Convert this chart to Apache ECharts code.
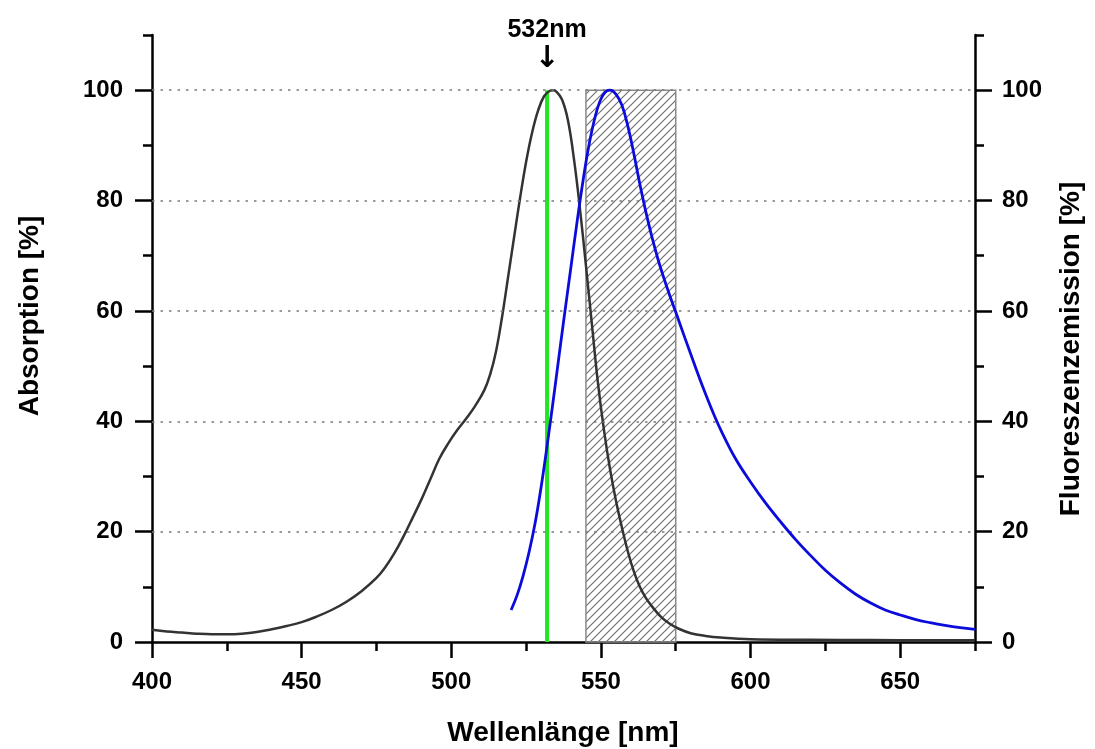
<!DOCTYPE html>
<html>
<head>
<meta charset="utf-8">
<script src="https://cdn.jsdelivr.net/npm/echarts@6/dist/echarts.min.js"></script>
<style>
html,body{margin:0;padding:0;background:#fff;}
#chart{width:1095px;height:749px;}
</style>
</head>
<body>
<div id="chart"></div>
<script>
// ---- data ----
const absWavelength = [400,405,410,415,420,425,430,435,440,445,450,455,460,465,470,475,478,481,484,487,490,493,496,499,502,505,508,511,513,515,517,519,521,523,525,527,529,531,533,534,535,537,539,541,543,545,547,549,551,553,555,557,559,561,563,565,567,570,573,576,580,585,590,600,620,640,660,675];
const absorption    = [2.2,1.9,1.7,1.5,1.4,1.4,1.5,1.8,2.3,2.9,3.6,4.6,5.8,7.3,9.2,11.6,13.6,16.1,19.1,22.4,25.8,29.5,33.2,36.0,38.4,40.5,42.8,45.6,48.5,52.8,59.0,66.2,73.4,80.5,87,92.3,96.3,98.9,99.9,100,99.8,98.3,94.5,87.5,78.5,68.2,57.5,47,38.5,31.5,25.7,20.8,16.4,12.8,10.0,8.0,6.5,4.6,3.3,2.4,1.6,1.1,0.8,0.5,0.4,0.35,0.3,0.3];
const fluWavelength = [520,522,524,526,528,530,532,534,536,538,540,542,544,546,548,550,552,553,555,557,559,561,563,565,567,569,571,573,575,578,581,584,587,590,595,600,605,610,615,620,625,630,635,640,645,650,655,660,665,670,675];
const fluorescence  = [5.8,8.5,12,16.3,21.5,28,35.5,43.5,51.8,60,68,76,83.5,90,95,98.4,99.9,100,99.3,97.3,93.5,88.5,83,78,73.5,69.5,66,62.8,59.8,55.2,50.7,46.3,42.2,38.5,33.2,29.0,25.2,21.8,18.6,15.7,13.0,10.7,8.7,7.1,5.8,4.9,4.1,3.5,3.0,2.6,2.3];
const laserWavelength = 532;
const laserLabel = '532nm';
const filterBand = [545, 575];
const filterTop = 100;
const xMajorTicks = [400,450,500,550,600,650];
const xMinorTicks = [425,475,525,575,625,675];
const yMajorTicks = [0,20,40,60,80,100];
const yMinorTicks = [10,30,50,70,90,110];
const gridLevels = [20,40,60,80,100];
const xTitle = 'Wellenlänge [nm]';
const yLeftTitle = 'Absorption [%]';
const yRightTitle = 'Fluoreszenzemission [%]';

// ---- hatch pattern ----
const pc = document.createElement('canvas');
const P = 8;
pc.width = P; pc.height = P;
const g = pc.getContext('2d');
g.strokeStyle = '#707070';
g.lineWidth = 1.2;
g.beginPath();
g.moveTo(-1, P + 1); g.lineTo(P + 1, -1);
g.moveTo(-1, 1); g.lineTo(1, -1);
g.moveTo(P - 1, P + 1); g.lineTo(P + 1, P - 1);
g.stroke();

const FONT = "'Liberation Sans', Arial, Helvetica, sans-serif";
const zip = (a, b) => a.map((v, i) => [v, b[i]]);

const chart = echarts.init(document.getElementById('chart'), null, {renderer: 'canvas'});

const tickLabelStyle = {color: '#000', fontFamily: FONT, fontWeight: 'bold', fontSize: 24};
const axisLineStyle = {show: true, lineStyle: {color: '#000', width: 2.5}};

chart.setOption({
  backgroundColor: '#fff',
  animation: false,
  grid: {left: 152, right: 120, top: 35, bottom: 107, containLabel: false, outerBoundsMode: 'none'},
  xAxis: [
    {type: 'value', position: 'bottom', min: 400, max: 675, interval: 25,
     axisLine: axisLineStyle,
     axisTick: {show: true, inside: false, length: 16, customValues: xMajorTicks, lineStyle: {color: '#000', width: 2.5}},
     axisLabel: {show: true, margin: 28, customValues: xMajorTicks, ...tickLabelStyle},
     splitLine: {show: false}},
    {type: 'value', position: 'bottom', min: 400, max: 675, interval: 25,
     axisLine: {show: false},
     axisTick: {show: true, inside: false, length: 9, customValues: xMinorTicks, lineStyle: {color: '#000', width: 2.5}},
     axisLabel: {show: false},
     splitLine: {show: false}}
  ],
  yAxis: [
    {type: 'value', position: 'left', min: 0, max: 110, interval: 10,
     axisLine: axisLineStyle,
     axisTick: {show: true, inside: false, length: 17, customValues: yMajorTicks, lineStyle: {color: '#000', width: 2.5}},
     axisLabel: {show: true, margin: 29, customValues: yMajorTicks, ...tickLabelStyle},
     splitLine: {show: false}},
    {type: 'value', position: 'left', min: 0, max: 110, interval: 10,
     axisLine: {show: false},
     axisTick: {show: true, inside: false, length: 9, customValues: yMinorTicks, lineStyle: {color: '#000', width: 2.5}},
     axisLabel: {show: false},
     splitLine: {show: false}},
    {type: 'value', position: 'right', min: 0, max: 110, interval: 10,
     axisLine: axisLineStyle,
     axisTick: {show: true, inside: false, length: 17, customValues: yMajorTicks, lineStyle: {color: '#000', width: 2.5}},
     axisLabel: {show: true, margin: 27, customValues: yMajorTicks, ...tickLabelStyle},
     splitLine: {show: false}},
    {type: 'value', position: 'right', min: 0, max: 110, interval: 10,
     axisLine: {show: false},
     axisTick: {show: true, inside: false, length: 9, customValues: yMinorTicks, lineStyle: {color: '#000', width: 2.5}},
     axisLabel: {show: false},
     splitLine: {show: false}}
  ],
  graphic: [
    {type: 'text', x: 563, y: 733, z: 100,
     style: {text: xTitle, font: "bold 28px " + FONT, fill: '#000', align: 'center', verticalAlign: 'middle'}},
    {type: 'text', x: 30, y: 316, rotation: Math.PI / 2, z: 100,
     style: {text: yLeftTitle, font: "bold 28px " + FONT, fill: '#000', align: 'center', verticalAlign: 'middle'}},
    {type: 'text', x: 1071, y: 349, rotation: Math.PI / 2, z: 100,
     style: {text: yRightTitle, font: "bold 28px " + FONT, fill: '#000', align: 'center', verticalAlign: 'middle'}}
  ],
  series: [
    {
      name: 'Laser', type: 'line', xAxisIndex: 0, yAxisIndex: 0, z: 2,
      data: [[laserWavelength, 0], [laserWavelength, filterTop]],
      showSymbol: false, symbol: 'none',
      lineStyle: {color: '#22e622', width: 4},
      markArea: {
        silent: true,
        itemStyle: {color: {image: pc, repeat: 'repeat'}, borderColor: '#8a8a8a', borderWidth: 1.5},
        data: [[{xAxis: filterBand[0], yAxis: 0}, {xAxis: filterBand[1], yAxis: filterTop}]]
      },
      markLine: {
        silent: true, symbol: 'none', label: {show: false},
        lineStyle: {color: '#7a7a7a', width: 1.6, type: [2.5, 6]},
        data: gridLevels.map(v => ({yAxis: v}))
      },
      markPoint: {
        silent: true,
        symbol: 'circle', symbolSize: 1,
        itemStyle: {color: 'rgba(0,0,0,0)'},
        label: {
          show: true, position: 'top', distance: 16,
          formatter: '{t|' + laserLabel + '}\n{a|↓}',
          rich: {
            t: {fontFamily: FONT, fontWeight: 'bold', fontSize: 25, lineHeight: 32, color: '#000', align: 'center'},
            a: {fontFamily: 'DejaVu Sans, ' + FONT, fontWeight: 'bold', fontSize: 30, lineHeight: 28, color: '#000', align: 'center'}
          }
        },
        data: [{coord: [laserWavelength, filterTop]}]
      }
    },
    {
      name: 'Absorption', type: 'line', xAxisIndex: 0, yAxisIndex: 0, z: 4,
      data: zip(absWavelength, absorption),
      smooth: 0.4, showSymbol: false, symbol: 'none',
      lineStyle: {color: '#333333', width: 2.5}
    },
    {
      name: 'Fluoreszenz', type: 'line', xAxisIndex: 0, yAxisIndex: 2, z: 5,
      data: zip(fluWavelength, fluorescence),
      smooth: 0.4, showSymbol: false, symbol: 'none',
      lineStyle: {color: '#0b0bdc', width: 2.8}
    }
  ]
});
</script>
</body>
</html>
